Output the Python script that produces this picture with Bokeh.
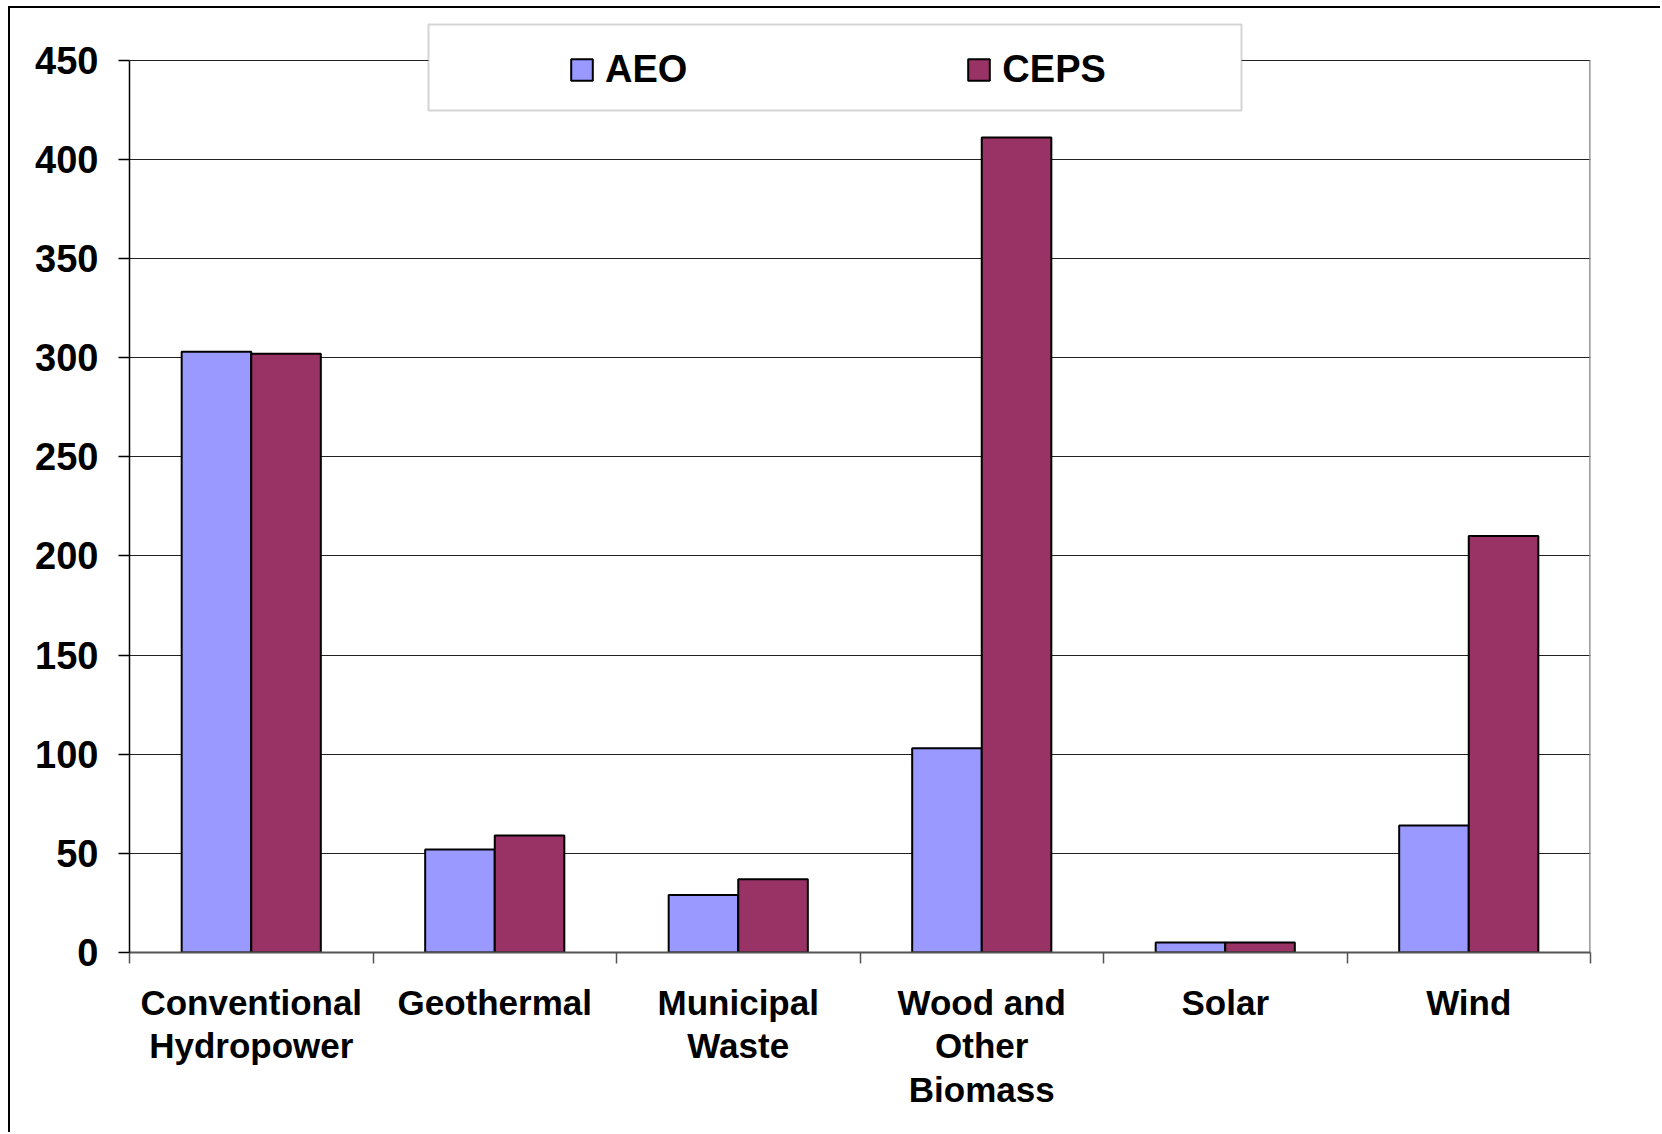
import numpy as np
from bokeh.plotting import figure
from bokeh.models import (ColumnDataSource, FixedTicker, Legend, LegendItem,
                          BoxAnnotation, Range1d)
from bokeh.embed import file_html
from bokeh.resources import INLINE

# Renewable generation by source, two projections
categories = ["Conventional\nHydropower", "Geothermal", "Municipal\nWaste",
              "Wood and\nOther\nBiomass", "Solar", "Wind"]
aeo = [303, 52, 29, 103, 5, 64]
ceps = [302, 59, 37, 411, 5, 210]
y_ticks = [0, 50, 100, 150, 200, 250, 300, 350, 400, 450]
y_max = 450

AEO_COLOR = "#9999FF"
CEPS_COLOR = "#993366"
FONT = "Liberation Sans"

n = len(categories)
idx = np.arange(n)
bar_w = 1 / 3.5  # two bars plus a 150% gap per category

src = ColumnDataSource(dict(
    x_aeo=idx + 0.5 - bar_w / 2,
    x_ceps=idx + 0.5 + bar_w / 2,
    aeo=aeo,
    ceps=ceps,
))

# page offset of the chart inside its outer frame
OX, OY = 10, 8
W, H = 1662 - OX, 1134 - OY

# headroom above the value axis holds the legend panel
p = figure(width=W, height=H, output_backend="svg", toolbar_location=None,
           x_range=Range1d(0, n), y_range=Range1d(0, 470),
           min_border_left=119, min_border_right=72,
           min_border_top=12, min_border_bottom=182)
p.background_fill_color = "white"
p.border_fill_color = "white"
p.outline_line_alpha = 0
p.margin = (OY - 2, 0, 0, OX - 2)
p.styles = {"border-top": "2px solid black", "border-left": "2px solid black"}

r_aeo = p.vbar(x="x_aeo", top="aeo", width=bar_w, bottom=0, source=src,
               fill_color=AEO_COLOR, line_color="black", line_width=2)
r_ceps = p.vbar(x="x_ceps", top="ceps", width=bar_w, bottom=0, source=src,
                fill_color=CEPS_COLOR, line_color="black", line_width=2)

# right edge of the plot area
p.segment(x0=[n], y0=[0], x1=[n], y1=[y_max], line_color="#808080", line_width=2.5)

# y axis
yax = p.yaxis[0]
yax.bounds = (0, y_max)
yax.ticker = FixedTicker(ticks=y_ticks, minor_ticks=[])
yax.axis_line_color = "black"
yax.axis_line_width = 1.5
yax.major_tick_out = 11
yax.major_tick_in = 0
yax.major_tick_line_color = "black"
yax.major_tick_line_width = 1.5
yax.major_label_standoff = 20
yax.major_label_text_font = FONT
yax.major_label_text_font_style = "bold"
yax.major_label_text_font_size = "38px"
yax.major_label_text_color = "black"

# x axis: boundary tick marks, labels centred on each category
xax = p.xaxis[0]
xax.ticker = FixedTicker(ticks=list(idx + 0.5), minor_ticks=list(range(n + 1)))
xax.major_label_overrides = {float(i + 0.5): c for i, c in enumerate(categories)}
xax.axis_line_color = "#555555"
xax.axis_line_width = 2
xax.major_tick_out = 0
xax.major_tick_in = 0
xax.minor_tick_out = 11
xax.minor_tick_in = 0
xax.minor_tick_line_color = "#555555"
xax.minor_tick_line_width = 1.5
xax.major_label_standoff = 19
xax.major_label_text_font = FONT
xax.major_label_text_font_style = "bold"
xax.major_label_text_font_size = "35px"
xax.major_label_text_color = "black"
xax.major_label_text_line_height = 1.12

p.xgrid.visible = False
p.ygrid.ticker = FixedTicker(ticks=y_ticks)
p.ygrid.grid_line_color = "#222222"
p.ygrid.grid_line_width = 1

# legend panel
p.add_layout(BoxAnnotation(left=426 - OX, top=22 - OY, right=1239 - OX, bottom=108 - OY,
                           left_units="canvas", right_units="canvas",
                           top_units="canvas", bottom_units="canvas",
                           fill_color="white", fill_alpha=1,
                           line_color="#707070", line_width=2))

legend = Legend(items=[LegendItem(label="AEO", renderers=[r_aeo]),
                       LegendItem(label="CEPS", renderers=[r_ceps])],
                orientation="horizontal", location=(439, 861),
                padding=0, margin=0, spacing=278,
                glyph_width=27, glyph_height=27, label_standoff=10,
                border_line_alpha=0, background_fill_alpha=0,
                label_text_font=FONT, label_text_font_style="bold",
                label_text_font_size="38px", label_text_color="black")
p.add_layout(legend, "center")

open("out.html", "w").write(file_html(p, INLINE))
